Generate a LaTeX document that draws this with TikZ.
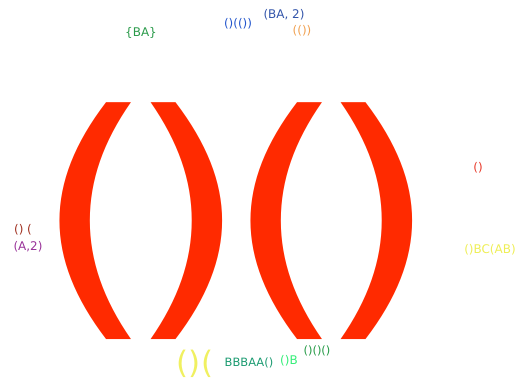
\documentclass[tikz,border=0pt]{standalone}
\usepackage{fontspec}
\setmainfont{DejaVu Sans}
\definecolor{bigred}{RGB}{255,42,0}
\definecolor{cGreenA}{RGB}{42,154,74}
\definecolor{cBlueA}{RGB}{34,85,204}
\definecolor{cBlueB}{RGB}{51,85,170}
\definecolor{cOrange}{RGB}{240,160,80}
\definecolor{cDarkRed}{RGB}{160,48,32}
\definecolor{cPurple}{RGB}{153,51,153}
\definecolor{cRed}{RGB}{232,58,42}
\definecolor{cYellow}{RGB}{238,238,85}
\definecolor{cYellowB}{RGB}{240,240,96}
\definecolor{cTeal}{RGB}{26,154,112}
\definecolor{cLime}{RGB}{51,238,119}
\definecolor{cGreenB}{RGB}{34,153,68}
\tikzset{
  lbl/.style={inner sep=0pt, font=\fontsize{12}{14}\selectfont},
}
\begin{document}
\begin{tikzpicture}[x=1bp,y=-1bp]
\useasboundingbox (0,0) rectangle (519,385);
\node[inner sep=0pt, anchor=base west, text=bigred, xscale=1.2,
      text height=203bp, text depth=35bp,
      font=\fontsize{267}{300}\selectfont] (big) at (32.5,304)
  {(\kern-26.5bp)\kern-22.4bp(\kern-26.5bp)};
\node[lbl, text=cGreenA] (t1) at (141,33) {\{BA\}};
\node[lbl, text=cBlueA] (t2) at (238,24) {()(())};
\node[lbl, text=cBlueB] (t3) at (284,15) {(BA, 2)};
\node[lbl, text=cOrange] (t4) at (302,31) {(())};
\node[lbl, text=cDarkRed] (t5) at (23,230) {() (};
\node[lbl, text=cPurple] (t6) at (28,247) {(A,2)};
\node[lbl, text=cRed] (t7) at (478,168) {()};
\node[lbl, text=cYellow] (t8) at (490,250) {()BC(AB)};
\node[lbl, text=cYellowB, font=\fontsize{31}{34}\selectfont] (t9) at (195,364) {()(};
\node[lbl, text=cTeal, font=\fontsize{11.5}{13}\selectfont] (t10) at (249,363) {BBBAA()};
\node[lbl, text=cLime] (t11) at (289,361) {()B};
\node[lbl, text=cGreenB, font=\fontsize{11.5}{13}\selectfont] (t12) at (317,351) {()()()};
\end{tikzpicture}
\end{document}
